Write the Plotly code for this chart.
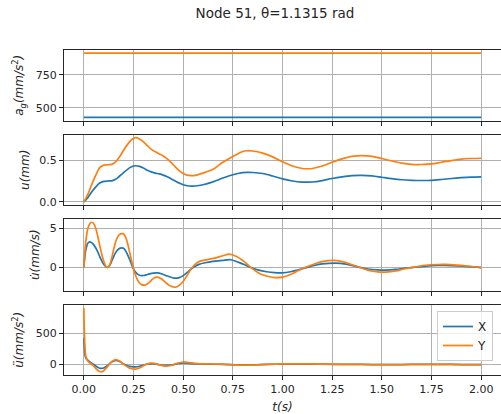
import plotly.graph_objects as go

# ---- data -------------------------------------------------------------
T_END = 2.0
ag_x = 428.0          # ground acceleration components (mm/s^2)
ag_y = 915.0

t_u = [0, 0.02, 0.04, 0.06, 0.08, 0.10, 0.12, 0.14, 0.16, 0.18, 0.20, 0.22, 0.24,
       0.26, 0.28, 0.30, 0.32, 0.34, 0.36, 0.38, 0.40, 0.42, 0.44, 0.46, 0.48,
       0.50, 0.52, 0.54, 0.56, 0.60, 0.65, 0.70, 0.75, 0.80, 0.82, 0.85, 0.90,
       0.95, 1.00, 1.05, 1.10, 1.13, 1.15, 1.20, 1.25, 1.30, 1.35, 1.40, 1.45,
       1.50, 1.55, 1.60, 1.65, 1.70, 1.75, 1.80, 1.85, 1.90, 1.95, 2.00]
u_x = [0, 0.05, 0.12, 0.18, 0.225, 0.245, 0.25, 0.252, 0.27, 0.31, 0.35, 0.39, 0.42,
       0.433, 0.425, 0.405, 0.38, 0.36, 0.345, 0.335, 0.32, 0.30, 0.275, 0.25, 0.225,
       0.205, 0.193, 0.189, 0.19, 0.205, 0.24, 0.285, 0.325, 0.35, 0.354, 0.352, 0.34,
       0.31, 0.276, 0.25, 0.237, 0.236, 0.238, 0.255, 0.28, 0.30, 0.315, 0.318, 0.312,
       0.295, 0.278, 0.265, 0.258, 0.256, 0.258, 0.268, 0.28, 0.29, 0.297, 0.30]
u_y = [0, 0.09, 0.21, 0.32, 0.41, 0.44, 0.445, 0.45, 0.48, 0.54, 0.62, 0.69, 0.745,
       0.77, 0.755, 0.72, 0.675, 0.63, 0.60, 0.575, 0.55, 0.515, 0.47, 0.42, 0.375,
       0.34, 0.32, 0.315, 0.318, 0.345, 0.39, 0.475, 0.545, 0.605, 0.613, 0.61, 0.585,
       0.54, 0.48, 0.43, 0.40, 0.397, 0.40, 0.43, 0.475, 0.515, 0.545, 0.554, 0.545,
       0.52, 0.49, 0.465, 0.45, 0.448, 0.455, 0.475, 0.495, 0.512, 0.52, 0.523]

t_v_x = [0, 0.005, 0.01, 0.02, 0.03, 0.04, 0.05, 0.06, 0.07, 0.08, 0.09, 0.10, 0.11,
         0.12, 0.13, 0.14, 0.15, 0.16, 0.17, 0.18, 0.19, 0.20, 0.21, 0.22, 0.23, 0.24,
         0.25, 0.26, 0.27, 0.28, 0.30, 0.32, 0.35, 0.37, 0.39, 0.42, 0.45, 0.46, 0.48,
         0.50, 0.52, 0.54, 0.56, 0.58, 0.61, 0.65, 0.70, 0.74, 0.78, 0.81, 0.84, 0.88,
         0.92, 0.96, 1.00, 1.04, 1.08, 1.12, 1.16, 1.20, 1.27, 1.32, 1.36, 1.39, 1.43,
         1.48, 1.52, 1.57, 1.61, 1.66, 1.72, 1.78, 1.82, 1.88, 1.94, 2.00]
v_x = [0, 1.4, 2.3, 3.1, 3.27, 3.15, 2.9, 2.5, 2.0, 1.4, 0.85, 0.4, 0.1,
       0.0, 0.25, 0.8, 1.4, 1.9, 2.25, 2.45, 2.5, 2.45, 2.15, 1.65, 1.05, 0.4,
       -0.2, -0.6, -0.85, -1.0, -1.03, -0.9, -0.72, -0.69, -0.8, -1.1, -1.35, -1.38, -1.3,
       -1.05, -0.65, -0.2, 0.15, 0.4, 0.6, 0.78, 0.92, 0.99, 0.65, 0.35, 0.0, -0.35,
       -0.55, -0.67, -0.69, -0.55, -0.3, -0.02, 0.25, 0.45, 0.56, 0.42, 0.2, 0.0, -0.2,
       -0.32, -0.34, -0.25, -0.12, 0.02, 0.17, 0.25, 0.26, 0.2, 0.1, 0.0]

t_v_y = [0, 0.005, 0.01, 0.02, 0.03, 0.04, 0.05, 0.06, 0.07, 0.08, 0.09, 0.10, 0.11,
         0.12, 0.13, 0.14, 0.15, 0.16, 0.17, 0.18, 0.19, 0.20, 0.21, 0.22, 0.23, 0.24,
         0.25, 0.26, 0.27, 0.28, 0.29, 0.31, 0.33, 0.35, 0.37, 0.39, 0.41, 0.43, 0.45,
         0.46, 0.48, 0.50, 0.52, 0.54, 0.56, 0.58, 0.60, 0.63, 0.66, 0.70, 0.73, 0.76,
         0.80, 0.84, 0.88, 0.92, 0.96, 1.00, 1.04, 1.08, 1.12, 1.16, 1.20, 1.26, 1.30,
         1.35, 1.39, 1.43, 1.48, 1.52, 1.57, 1.61, 1.66, 1.72, 1.78, 1.82, 1.88, 1.94, 2.00]
v_y = [0, 2.0, 3.4, 5.0, 5.6, 5.8, 5.6, 5.0, 4.0, 2.8, 1.7, 0.8, 0.2,
       0.0, 0.3, 1.2, 2.3, 3.3, 3.9, 4.25, 4.35, 4.3, 3.9, 3.1, 2.0, 0.9,
       -0.2, -1.0, -1.6, -2.0, -2.2, -2.25, -1.9, -1.4, -1.25, -1.45, -1.9, -2.3, -2.5,
       -2.54, -2.3, -1.8, -1.0, -0.2, 0.4, 0.75, 0.9, 1.05, 1.2, 1.5, 1.7, 1.5,
       0.9, 0.0, -0.7, -1.1, -1.3, -1.25, -0.9, -0.4, 0.05, 0.45, 0.75, 0.9, 0.75,
       0.35, 0.0, -0.35, -0.58, -0.6, -0.45, -0.2, 0.05, 0.28, 0.38, 0.39, 0.3, 0.15, -0.05]

t_a = [0, 0.002, 0.004, 0.006, 0.008, 0.012, 0.017, 0.025, 0.035, 0.05, 0.065, 0.08,
       0.09, 0.10, 0.12, 0.14, 0.16, 0.18, 0.20, 0.22, 0.24, 0.26, 0.28, 0.30, 0.32,
       0.34, 0.36, 0.38, 0.41, 0.44, 0.47, 0.50, 0.53, 0.57, 0.62, 0.70, 0.78, 0.85,
       0.92, 1.00, 1.10, 1.20, 1.30, 1.40, 1.50, 1.60, 1.70, 1.80, 1.90, 2.00]
a_x = [428, 300, 210, 150, 120, 95, 80, 55, 30, 0, -35, -60,
       -63, -55, -15, 40, 68, 50, 10, -20, -35, -38, -28, -8, 8,
       16, 10, -3, -15, -8, 12, 25, 20, 10, 6, 3, -6, -5,
       2, 6, 7, 5, 2, 1, -2, 0, 2, 2, 0, -1]
a_y = [915, 600, 380, 250, 175, 110, 72, 40, 15, -25, -80, -112,
       -117, -100, -30, 45, 79, 55, 5, -40, -68, -74, -55, -20, 10,
       25, 15, -5, -27, -15, 20, 41, 30, 15, 10, 5, -10, -8,
       3, 10, 12, 8, 3, 2, -3, 0, 4, 3, 0, -2]

x_ticks = [0.0, 0.25, 0.5, 0.75, 1.0, 1.25, 1.5, 1.75, 2.0]

# ---- styling ----------------------------------------------------------
BLUE = "#1f77b4"
ORANGE = "#ff7f0e"
FONT = "DejaVu Sans"
TXT = "#262626"
W, H = 501, 414
M_L, M_R, M_T, M_B = 64, 0, 50, 39


def padded(lo, hi, frac=0.05):
    span = hi - lo
    return [lo - frac * span, hi + frac * span]


# panel rows in pixels from the top of the plotting area
plot_h = H - M_T - M_B
panels = [(0, 70.5), (84.5, 155), (169, 240.5), (254.5, plot_h)]
domains = [[1 - b / plot_h, 1 - a / plot_h] for a, b in panels]

fig = go.Figure()

series = [
    ([0, T_END], [ag_x, ag_x], [0, T_END], [ag_y, ag_y]),
    (t_u, u_x, t_u, u_y),
    (t_v_x, v_x, t_v_y, v_y),
    (t_a, a_x, t_a, a_y),
]

for i, (tx, yx, ty, yy) in enumerate(series):
    n = "" if i == 0 else str(i + 1)
    last = i == 3
    fig.add_trace(go.Scatter(x=tx, y=yx, mode="lines", name="X",
                             line=dict(color=BLUE, width=1.7, shape="spline", smoothing=0.8),
                             xaxis="x" + n, yaxis="y" + n, showlegend=last))
    fig.add_trace(go.Scatter(x=ty, y=yy, mode="lines", name="Y",
                             line=dict(color=ORANGE, width=1.7, shape="spline", smoothing=0.8),
                             xaxis="x" + n, yaxis="y" + n, showlegend=last))

y_titles = [
    "<i>a</i><sub><i>g</i></sub><i>(mm/s</i><sup>2</sup><i>)</i>",
    "<i>u(mm)</i>",
    "<i>u\u0307(mm/s)</i>",
    "<i>\u00fc(mm/s</i><sup>2</sup><i>)</i>",
]
y_standoffs = [9, 7, 7, 9]
y_ranges = [
    padded(min(ag_x, ag_y), max(ag_x, ag_y)),
    padded(min(u_x + u_y), max(u_x + u_y)),
    padded(min(v_x + v_y), max(v_x + v_y)),
    padded(min(a_x + a_y), max(a_x + a_y)),
]
y_dticks = [250, 0.5, 5, 500]
y_formats = ["d", ".1f", "d", "d"]

axis_common = dict(showline=True, linecolor="#262626", linewidth=1, mirror=True,
                   ticks="outside", ticklen=4, tickcolor="#262626", tickwidth=1,
                   showgrid=True, gridcolor="#b0b0b0", gridwidth=1, zeroline=False,
                   tickfont=dict(family=FONT, size=11, color=TXT))

layout = {}
for i in range(4):
    n = "" if i == 0 else str(i + 1)
    last = i == 3
    layout["xaxis" + n] = dict(
        axis_common, domain=[0, 1], anchor="y" + n, range=[-0.1, 2.1],
        tickvals=x_ticks, tickformat=".2f", showticklabels=last,
        title=dict(text="<i>t(s)</i>", standoff=10,
                   font=dict(family=FONT, size=12, color=TXT)) if last else None,
        matches=None if i == 0 else "x",
    )
    layout["yaxis" + n] = dict(
        axis_common, domain=domains[i], anchor="x" + n, range=y_ranges[i],
        dtick=y_dticks[i], tick0=0, tickformat=y_formats[i],
        title=dict(text=y_titles[i], standoff=y_standoffs[i],
                   font=dict(family=FONT, size=12, color=TXT)),
    )

fig.update_layout(
    width=W, height=H,
    margin=dict(l=M_L, r=M_R, t=M_T, b=M_B, autoexpand=False),
    paper_bgcolor="white", plot_bgcolor="white",
    font=dict(family=FONT, size=11, color=TXT),
    title=dict(text="Node 51, \u03b8=1.1315 rad", x=275 / W, xref="container", xanchor="center",
               y=1 - 13.5 / H, yref="container", yanchor="middle",
               font=dict(family=FONT, size=13.5, color=TXT)),
    legend=dict(x=(493 - M_L) / (W - M_L - M_R), xanchor="right",
                y=(plot_h - 261) / plot_h, yanchor="top",
                bgcolor="rgba(255,255,255,0.8)", bordercolor="#cccccc", borderwidth=1,
                font=dict(family=FONT, size=12, color=TXT),
                itemwidth=30, tracegroupgap=2),
    showlegend=True,
    **layout,
)

fig.write_html("out.html")
